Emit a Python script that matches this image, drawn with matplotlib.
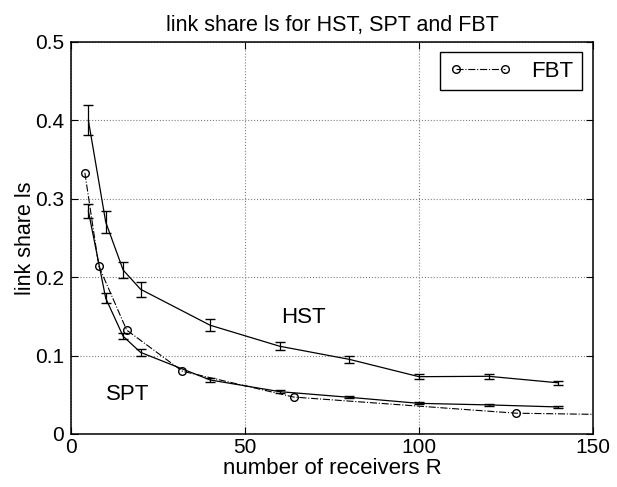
import matplotlib.pyplot as plt
import numpy as np

plt.rcParams['font.family'] = ['Liberation Sans', 'DejaVu Sans']

# measured receivers R
r = [5, 10, 15, 20, 40, 60, 80, 100, 120, 140]

# HST link share with error
hst = [0.400, 0.270, 0.209, 0.1845, 0.1386, 0.1118, 0.0951, 0.0730, 0.0735, 0.0652]
hst_err = [0.019, 0.0138, 0.010, 0.0095, 0.0075, 0.005, 0.0043, 0.0034, 0.003, 0.0028]

# SPT link share with error
spt = [0.2843, 0.1729, 0.1245, 0.104, 0.0688, 0.0539, 0.0467, 0.039, 0.037, 0.0344]
spt_err = [0.0087, 0.0064, 0.004, 0.004, 0.002, 0.0015, 0.0012, 0.0012, 0.001, 0.001]

# FBT curve
r_fbt = [4, 8, 16, 32, 64, 128, 150]
fbt = [0.333, 0.214, 0.1325, 0.080, 0.047, 0.0264, 0.025]

fig = plt.figure(figsize=(6.17, 4.87), dpi=100)
ax = fig.add_axes([0.115, 0.109, 0.846, 0.805])

ax.plot(r_fbt, fbt, 'k-.', marker='o', mfc='none', ms=5.5, lw=0.8,
        markevery=range(len(r_fbt) - 1), label='FBT')
ax.errorbar(r, hst, yerr=hst_err, color='k', lw=0.9, capsize=3.6, elinewidth=0.9)
ax.errorbar(r, spt, yerr=spt_err, color='k', lw=0.9, capsize=3.6, elinewidth=0.9)

ax.text(60.3, 0.149, 'HST', fontsize=16, va='center')
ax.text(10.2, 0.05, 'SPT', fontsize=16, va='center')

ax.set_xlim(0, 150)
ax.set_ylim(0, 0.5)
ax.set_xticks([0, 50, 100, 150])
ax.set_yticks([0, 0.1, 0.2, 0.3, 0.4, 0.5])
ax.set_yticklabels(['0', '0.1', '0.2', '0.3', '0.4', '0.5'])
ax.tick_params(direction='in', top=True, right=True, labelsize=15, length=5)
ax.tick_params(axis='x', pad=3)
ax.tick_params(axis='y', pad=5)
ax.grid(True, ls=':', color='gray', lw=0.8)
for s in ax.spines.values():
    s.set_linewidth(1.1)

ax.set_title('link share ls for HST, SPT and FBT', fontsize=15.5, pad=8)
ax.set_xlabel('number of receivers R', fontsize=16, labelpad=1)
ax.set_ylabel('link share ls', fontsize=15.5, labelpad=-1)

leg = ax.legend(loc='upper right', fontsize=16, fancybox=False, edgecolor='k',
                framealpha=1, handlelength=2.8, numpoints=2, borderpad=0.4,
                handletextpad=0.9, borderaxespad=0,
                bbox_to_anchor=(0.98, 0.975))
leg.get_frame().set_linewidth(1.0)

fig.savefig('out.png', dpi=100)
